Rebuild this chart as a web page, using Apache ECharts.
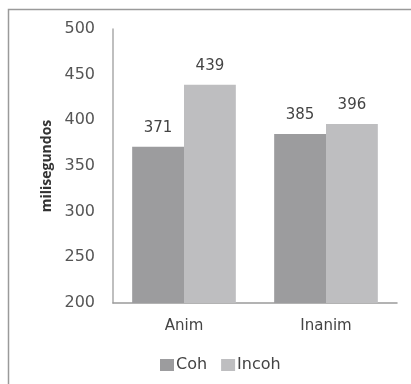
<!DOCTYPE html>
<html>
<head>
<meta charset="utf-8">
<script src="https://cdn.jsdelivr.net/npm/echarts@6/dist/echarts.min.js"></script>
<style>
  html, body { margin: 0; padding: 0; background: #fff; }
  #chart { width: 411px; height: 384px; }
</style>
</head>
<body>
<div id="chart"></div>
<script>
// Reaction times (ms) per condition
const categories = ['Anim', 'Inanim'];
const seriesNames = ['Coh', 'Incoh'];
const cohValues = [371, 385];
const incohValues = [439, 396];
const yTicks = { min: 200, max: 500, step: 50 };

const colors = ['#9c9c9e', '#bebec0'];
const font = 'DejaVu Sans, sans-serif';

const chart = echarts.init(document.getElementById('chart'), null, { renderer: 'canvas' });

const labelStyle = {
  show: true,
  position: 'top',
  distance: 11,
  color: '#444',
  fontSize: 15,
  fontFamily: font
};

chart.setOption({
  animation: false,
  backgroundColor: '#fff',
  graphic: [{
    type: 'rect',
    shape: { x: 8.5, y: 9.5, width: 440, height: 420 },
    style: { fill: 'none', stroke: '#9a9a9a', lineWidth: 1.5 },
    silent: true
  }],
  grid: { left: 113, top: 29, right: 14, bottom: 81, containLabel: false },
  legend: {
    data: seriesNames,
    top: 352,
    left: 155,
    itemWidth: 14,
    itemHeight: 12,
    itemGap: 14,
    icon: 'rect',
    textStyle: { color: '#444', fontSize: 16, fontFamily: font, padding: [0, 0, 0, -3] }
  },
  xAxis: {
    type: 'category',
    data: categories,
    axisLine: { show: true, lineStyle: { color: '#9a9a9a', width: 1.5 } },
    axisTick: { show: false },
    axisLabel: { color: '#444', fontSize: 15, fontFamily: font, margin: 16 }
  },
  yAxis: {
    type: 'value',
    min: yTicks.min,
    max: yTicks.max,
    interval: yTicks.step,
    name: 'milisegundos',
    nameLocation: 'middle',
    nameRotate: 90,
    nameGap: 58,
    nameTextStyle: { color: '#333', fontSize: 14, fontWeight: 'bold', fontFamily: 'Open Sans, sans-serif' },
    axisLine: { show: true, lineStyle: { color: '#aaaaaa', width: 1.5 } },
    axisTick: { show: false },
    splitLine: { show: false },
    axisLabel: { color: '#555', fontSize: 16, fontFamily: font, margin: 18 }
  },
  series: [
    {
      name: seriesNames[0],
      type: 'bar',
      data: cohValues,
      itemStyle: { color: colors[0] },
      barGap: '0%',
      barCategoryGap: '27%',
      label: labelStyle
    },
    {
      name: seriesNames[1],
      type: 'bar',
      data: incohValues,
      itemStyle: { color: colors[1] },
      barGap: '0%',
      barCategoryGap: '27%',
      label: labelStyle
    }
  ]
});
</script>
</body>
</html>
